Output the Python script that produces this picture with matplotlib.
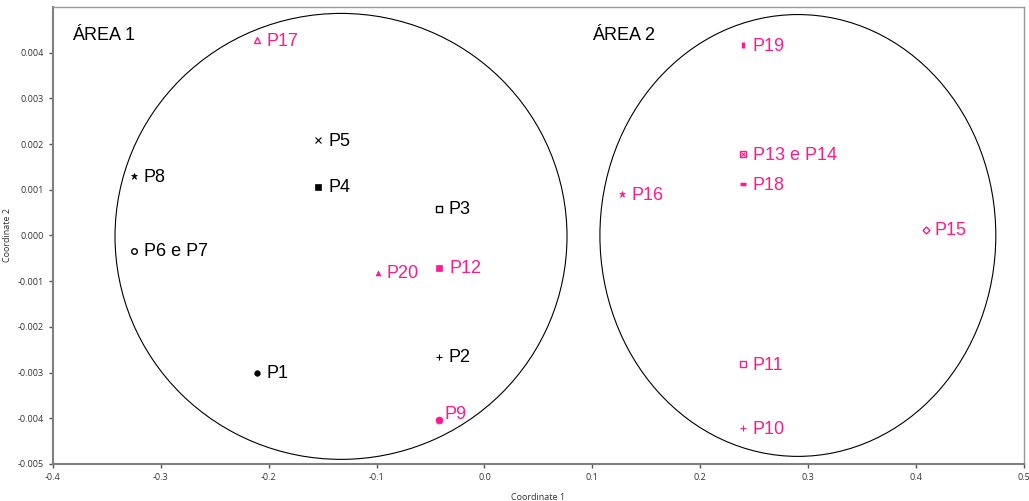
import matplotlib
matplotlib.use("Agg")
import matplotlib.pyplot as plt
from matplotlib.patches import Ellipse

# point coordinates
labels = ["P17", "P5", "P4", "P8", "P6 e P7", "P3", "P20", "P12", "P2", "P1", "P9",
          "P19", "P13 e P14", "P18", "P16", "P15", "P11", "P10"]
coord1 = [-0.211, -0.154, -0.154, -0.325, -0.325, -0.0423, -0.0988, -0.0423, -0.0423, -0.211, -0.0423,
          0.2395, 0.2395, 0.2395, 0.1273, 0.409, 0.2395, 0.2395]
coord2 = [0.00427, 0.00208, 0.00107, 0.00131, -0.00033, 0.00059, -0.00083, -0.00072, -0.00265, -0.0030, -0.00403,
          0.00416, 0.00179, 0.00112, 0.0009, 0.00011, -0.00282, -0.00422]
group = ["p", "k", "k", "k", "k", "k", "p", "p", "k", "k", "p",
         "p", "p", "p", "p", "p", "p", "p"]

# the two area circles: centre x, centre y, width, height
area_cx = [-0.133, 0.2905]
area_cy = [-0.00002, 0.0]
area_w = [0.419, 0.367]
area_h = [0.00976, 0.00967]
area_names = ["ÁREA 1", "ÁREA 2"]

PINK = "#ff1a8c"
colors = {"p": PINK, "k": "black"}

# marker style per point (marker, filled?, size, edge width)
styles = {
    "P17": ("^", False, 4, 1), "P5": ("x", False, 4, 0.8), "P4": ("s", True, 4, 0.5),
    "P8": ("*", True, 5, 0.5), "P6 e P7": ("o", False, 4, 1), "P3": ("s", False, 4.5, 1),
    "P20": ("^", True, 3.5, 0.5), "P12": ("s", True, 4, 0.5), "P2": ("+", False, 5, 0.8),
    "P1": ("o", True, 4, 0.5), "P9": ("o", True, 5, 0.5), "P19": ("|", False, 4, 2.5),
    "P13 e P14": ("X", True, 4.5, 1), "P18": ("_", False, 4, 2.5), "P16": ("*", True, 5, 0.5),
    "P15": ("D", False, 3.5, 1), "P11": ("s", False, 4.5, 1), "P10": ("+", False, 5, 0.8),
}
offsets = {"P9": (4, 4), "P12": (8, 0), "P20": (6, 0), "P15": (6, 0)}

plt.rcParams['font.family'] = ['Liberation Sans', 'DejaVu Sans']

fig = plt.figure(figsize=(10.29, 5.01), dpi=100)
ax = fig.add_axes([0.0515, 0.074, 0.9435, 0.912])

for cx, cy, w, h in zip(area_cx, area_cy, area_w, area_h):
    ax.add_patch(Ellipse((cx, cy), w, h, fill=False, edgecolor="black", linewidth=0.8))

for lab, x, y, g in zip(labels, coord1, coord2, group):
    c = colors[g]
    m, filled, ms, mew = styles[lab]
    if m == "X":
        # boxed cross
        ax.plot(x, y, marker="s", markersize=ms, markerfacecolor="white", markeredgecolor=c, markeredgewidth=mew)
        ax.plot(x, y, marker="x", markersize=ms - 1.5, color=c, markeredgewidth=0.8)
    elif filled:
        ax.plot(x, y, marker=m, markersize=ms, color=c, markeredgewidth=mew)
    else:
        ax.plot(x, y, marker=m, markersize=ms, markerfacecolor="white", markeredgecolor=c,
                markeredgewidth=mew, linestyle="none")
    dx, dy = offsets.get(lab, (7, -1))
    ax.annotate(lab, (x, y), xytext=(dx, dy), textcoords="offset points",
                ha="left", va="center", fontsize=13, color=c)

ax.text(0.0196, 0.937, area_names[0], transform=ax.transAxes, fontsize=13, va="center", ha="left")
ax.text(0.555, 0.937, area_names[1], transform=ax.transAxes, fontsize=13, va="center", ha="left")

ax.set_xlim(-0.4, 0.5)
ax.set_ylim(-0.005, 0.005)
ax.set_xticks([-0.4, -0.3, -0.2, -0.1, 0.0, 0.1, 0.2, 0.3, 0.4, 0.5])
ax.set_xticklabels(["-0.4", "-0.3", "-0.2", "-0.1", "0.0", "0.1", "0.2", "0.3", "0.4", "0.5"])
yt = [0.004, 0.003, 0.002, 0.001, 0.0, -0.001, -0.002, -0.003, -0.004, -0.005]
ax.set_yticks(yt)
ax.set_yticklabels(["%.3f" % v for v in yt])
ax.tick_params(labelsize=6.5, colors="#555555", length=3, width=1, labelcolor="#333333")
for lbl in ax.get_xticklabels() + ax.get_yticklabels():
    lbl.set_family("Open Sans")

for s in ["left", "bottom"]:
    ax.spines[s].set_color("#808080")
    ax.spines[s].set_linewidth(1.5)
for s in ["top", "right"]:
    ax.spines[s].set_color("#999999")
    ax.spines[s].set_linewidth(1.0)

ax.set_xlabel("Coordinate 1", fontsize=6.5, color="#333333", family="Open Sans", labelpad=8)
ax.set_ylabel("Coordinate 2", fontsize=6.5, color="#333333", family="Open Sans", labelpad=4)

fig.savefig("out.png", dpi=100)
